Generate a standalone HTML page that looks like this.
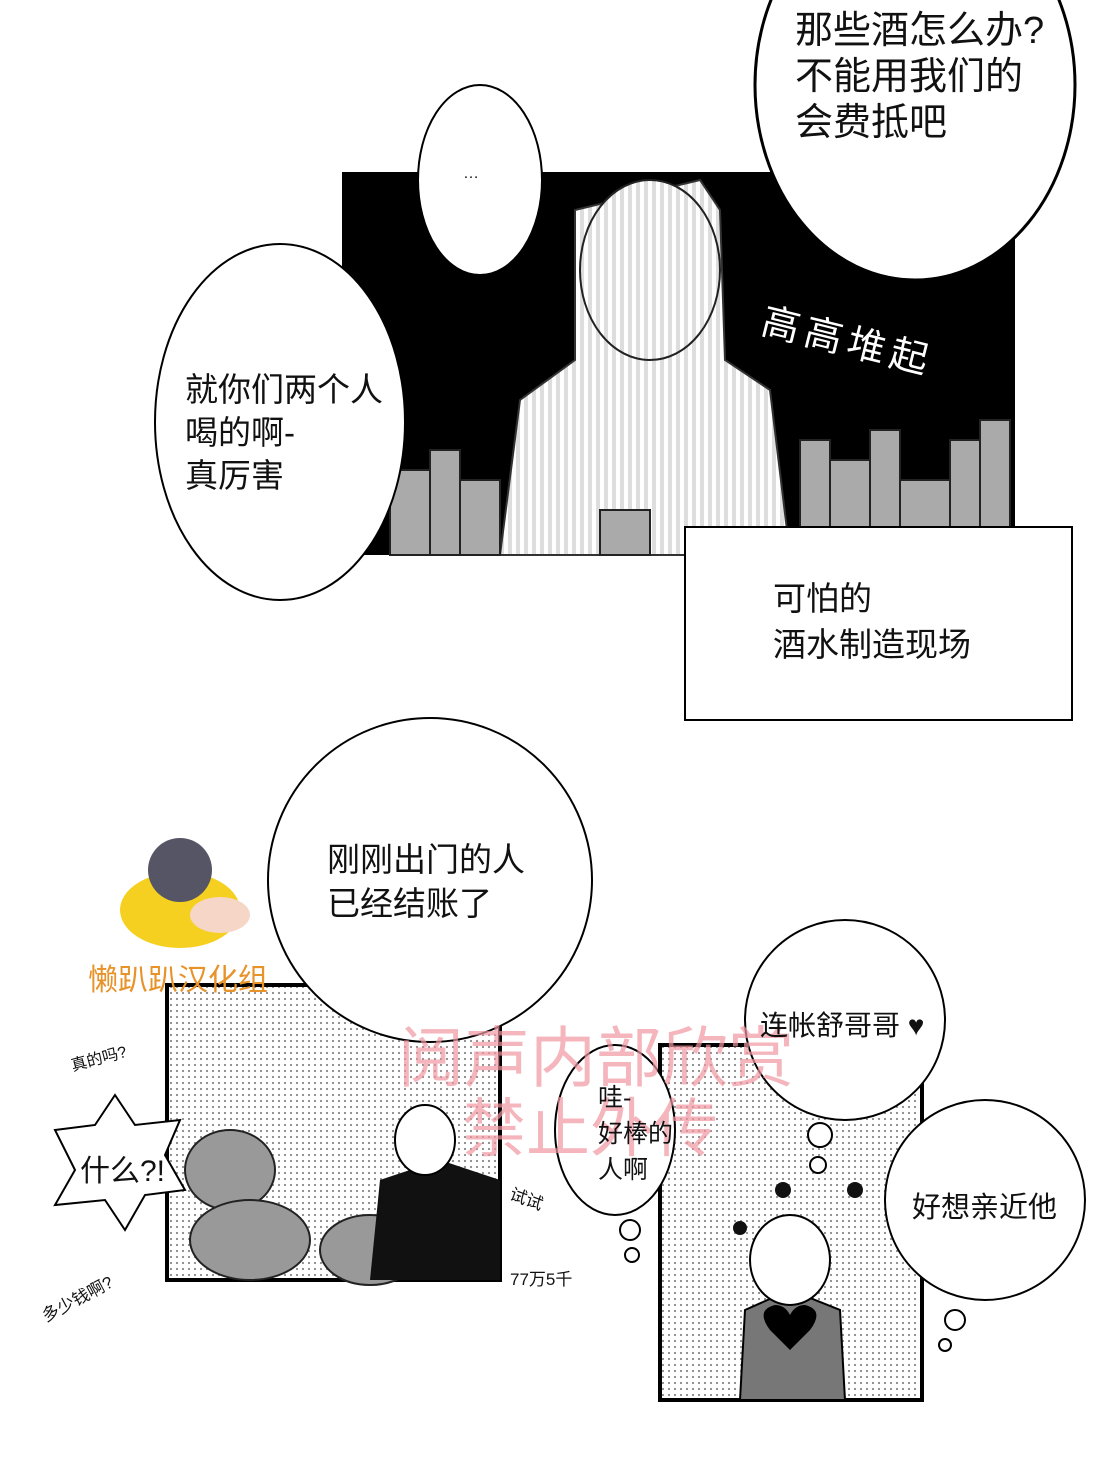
<!DOCTYPE html>
<html><head><meta charset="utf-8"><style>
html,body{margin:0;padding:0;background:#fff;}
body{width:1111px;height:1475px;position:relative;overflow:hidden;font-family:"Liberation Sans","Noto Sans CJK SC",sans-serif;}
.t{position:absolute;color:#111;white-space:nowrap;}
</style></head><body>
<svg width="1111" height="1475" style="position:absolute;left:0;top:0">
<defs>
<pattern id="dots" width="6" height="6" patternUnits="userSpaceOnUse"><circle cx="3" cy="3" r="1.1" fill="#888"/></pattern>
<pattern id="stripes" width="8" height="8" patternUnits="userSpaceOnUse"><rect width="4" height="8" fill="#fff"/><rect x="4" width="4" height="8" fill="#ddd"/></pattern>
</defs>
<rect x="342" y="172" width="673" height="383" fill="#000"/>
<path d="M500 555 L520 400 L575 360 L575 210 L700 180 L720 210 L725 360 L770 390 L790 555 Z" fill="url(#stripes)" stroke="#333" stroke-width="2"/>
<ellipse cx="650" cy="270" rx="70" ry="90" fill="url(#stripes)" stroke="#222" stroke-width="2"/>
<g fill="#aaa" stroke="#222" stroke-width="2">
<rect x="390" y="470" width="40" height="85"/><rect x="430" y="450" width="30" height="105"/><rect x="460" y="480" width="40" height="75"/>
<rect x="600" y="510" width="50" height="45"/><rect x="800" y="440" width="30" height="115"/><rect x="830" y="460" width="40" height="95"/>
<rect x="870" y="430" width="30" height="125"/><rect x="900" y="480" width="50" height="75"/><rect x="950" y="440" width="30" height="115"/><rect x="980" y="420" width="30" height="135"/>
</g>
<ellipse cx="915" cy="85" rx="160" ry="195" fill="#fff" stroke="#000" stroke-width="3"/>
<ellipse cx="480" cy="180" rx="62" ry="95" fill="#fff" stroke="#000" stroke-width="2"/>
<ellipse cx="280" cy="422" rx="125" ry="178" fill="#fff" stroke="#000" stroke-width="2"/>
<rect x="685" y="527" width="387" height="193" fill="#fff" stroke="#000" stroke-width="2"/>
<rect x="167" y="985" width="333" height="295" fill="url(#dots)" stroke="#000" stroke-width="4"/>
<g fill="#999" stroke="#222" stroke-width="2">
<ellipse cx="230" cy="1170" rx="45" ry="40"/><ellipse cx="250" cy="1240" rx="60" ry="40"/><ellipse cx="370" cy="1250" rx="50" ry="35"/>
</g>
<path d="M370 1280 L380 1180 L440 1160 L500 1180 L500 1280 Z" fill="#111"/>
<ellipse cx="425" cy="1140" rx="30" ry="35" fill="#fff" stroke="#000" stroke-width="2"/>
<circle cx="430" cy="880" r="162" fill="#fff" stroke="#000" stroke-width="2"/>
<rect x="660" y="1045" width="262" height="355" fill="url(#dots)" stroke="#000" stroke-width="4"/>
<path d="M740 1400 L745 1310 L790 1290 L840 1310 L845 1400 Z" fill="#777" stroke="#000" stroke-width="2"/>
<ellipse cx="790" cy="1260" rx="40" ry="45" fill="#fff" stroke="#000" stroke-width="2"/>
<path d="M770 1330 q-15 -20 5 -25 q10 0 15 10 q5 -10 15 -10 q20 5 5 25 l-20 20 z" fill="#000"/>
<circle cx="845" cy="1020" r="100" fill="#fff" stroke="#000" stroke-width="2"/>
<circle cx="985" cy="1200" r="100" fill="#fff" stroke="#000" stroke-width="2"/>
<ellipse cx="615" cy="1130" rx="60" ry="85" fill="#fff" stroke="#000" stroke-width="2"/>
<g fill="#fff" stroke="#000" stroke-width="2">
<circle cx="820" cy="1135" r="12"/><circle cx="818" cy="1165" r="8"/><circle cx="630" cy="1230" r="10"/><circle cx="632" cy="1255" r="7"/>
<circle cx="955" cy="1320" r="10"/><circle cx="945" cy="1345" r="6"/>
</g>
<g fill="#111"><circle cx="783" cy="1190" r="8"/><circle cx="855" cy="1190" r="8"/><circle cx="740" cy="1228" r="7"/></g>
<polygon points="55,1130 95,1125 115,1095 135,1125 180,1120 165,1155 185,1190 145,1195 125,1230 105,1200 55,1205 75,1170" fill="#fff" stroke="#000" stroke-width="2"/>
<ellipse cx="180" cy="910" rx="60" ry="38" fill="#f5d020"/>
<circle cx="180" cy="870" r="32" fill="#556"/>
<ellipse cx="220" cy="915" rx="30" ry="18" fill="#f6d6c6"/>
</svg>
<div class="t" style="left:795px;top:8px;font-size:38px;line-height:46px">那些酒怎么办?<br>不能用我们的<br>会费抵吧</div>
<div class="t" style="left:463px;top:165px;font-size:16px">…</div>
<div class="t" style="left:185px;top:368px;font-size:33px;line-height:43px">就你们两个人<br>喝的啊-<br>真厉害</div>
<div class="t" style="left:770px;top:290px;font-size:38px;color:#fff;transform:rotate(14deg);transform-origin:left top;letter-spacing:6px">高高堆起</div>
<div class="t" style="left:773px;top:576px;font-size:33px;line-height:46px">可怕的<br>酒水制造现场</div>
<div class="t" style="left:327px;top:838px;font-size:33px;line-height:44px">刚刚出门的人<br>已经结账了</div>
<div class="t" style="left:88px;top:955px;font-size:30px;color:#e8922a">懒趴趴汉化组</div>
<div class="t" style="left:398px;top:1005px;font-size:66px;color:rgba(240,150,160,0.7)">阅声内部欣赏</div>
<div class="t" style="left:462px;top:1078px;font-size:64px;color:rgba(240,150,160,0.7)">禁止外传</div>
<div class="t" style="left:760px;top:1004px;font-size:28px">连帐舒哥哥 ♥</div>
<div class="t" style="left:912px;top:1184px;font-size:29px">好想亲近他</div>
<div class="t" style="left:598px;top:1080px;font-size:25px;line-height:36px">哇-<br>好棒的<br>人啊</div>
<div class="t" style="left:80px;top:1146px;font-size:30px">什么?!</div>
<div class="t" style="left:70px;top:1045px;font-size:16px;transform:rotate(-15deg)">真的吗?</div>
<div class="t" style="left:38px;top:1285px;font-size:17px;transform:rotate(-28deg)">多少钱啊?</div>
<div class="t" style="left:510px;top:1185px;font-size:17px;transform:rotate(20deg)">试试</div>
<div class="t" style="left:510px;top:1265px;font-size:17px">77万5千</div>
</body></html>
